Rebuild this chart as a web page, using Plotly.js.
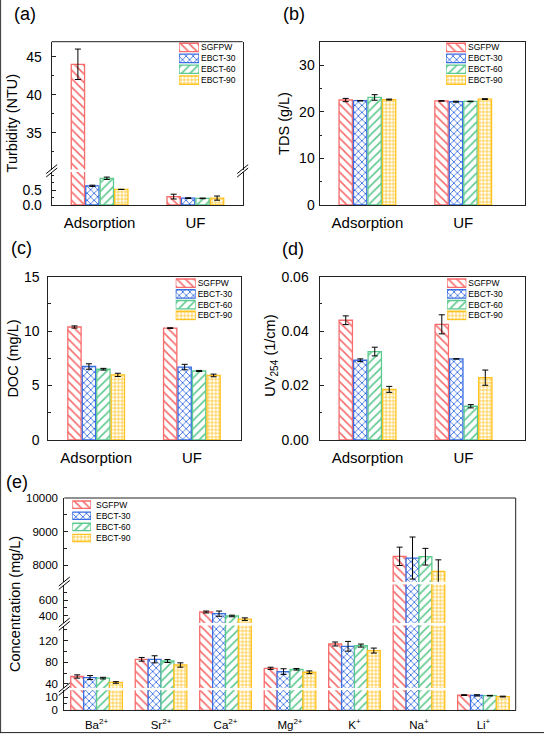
<!DOCTYPE html>
<html><head><meta charset="utf-8">
<script src="https://cdn.plot.ly/plotly-3.0.1.min.js"></script>
<style>html,body{margin:0;padding:0;background:#fff}</style>
</head><body><div id="chart" style="width:544px;height:735px"></div>
<script>
// ---------------- data ----------------
const seriesNames = ['SGFPW', 'EBCT-30', 'EBCT-60', 'EBCT-90'];
const processes = ['Adsorption', 'UF'];
// per series: [Adsorption, UF]
const turbidity    = [[44.0, 0.28], [0.64, 0.23], [0.89, 0.22], [0.52, 0.23]];
const turbidityErr = [[2.0, 0.08], [0.02, 0.01], [0.04, 0.01], [0.0, 0.07]];
const tds          = [[22.5, 22.3], [22.35, 22.15], [23.05, 22.2], [22.6, 22.7]];
const tdsErr       = [[0.35, 0.05], [0.05, 0.1], [0.6, 0.05], [0.1, 0.08]];
const doc          = [[10.38, 10.28], [6.75, 6.7], [6.5, 6.34], [5.98, 5.93]];
const docErr       = [[0.1, 0.03], [0.25, 0.25], [0.08, 0.05], [0.15, 0.12]];
const uv254        = [[0.0440, 0.0425], [0.0293, 0.0298], [0.0325, 0.0124], [0.0186, 0.0229]];
const uv254Err     = [[0.0016, 0.0035], [0.0005, 0.0], [0.0016, 0.0006], [0.0011, 0.0028]];
const ions = ['Ba<sup>2+</sup>', 'Sr<sup>2+</sup>', 'Ca<sup>2+</sup>', 'Mg<sup>2+</sup>', 'K<sup>+</sup>', 'Na<sup>+</sup>', 'Li<sup>+</sup>'];
const ionConc = [
  [53.8, 85.5, 450, 68.9, 113.7, 8260, 11.6],
  [51.8, 85.5, 429, 62.9, 109.5, 8209, 11.4],
  [50.8, 82.4, 400, 67.1, 110.8, 8249, 11.2],
  [42.8, 75.0, 360, 61.6, 101.6, 7812, 10.5]];
const ionErr = [
  [3.0, 3.4, 12, 2.0, 3.7, 274, 0.3],
  [3.7, 6.5, 33, 5.2, 9.0, 627, 0.5],
  [1.5, 2.8, 10, 1.5, 2.8, 249, 0.2],
  [1.5, 4.0, 16, 2.5, 4.6, 343, 0.3]];
const legendSpan = [0, 1];

// ---------------- style / layout helpers ----------------
const W = 544, H = 735;
const X = px => px / W;
const Y = py => 1 - py / H;
const FONT = 'Liberation Sans, Arial, Helvetica, sans-serif';
const colors = ['#F76B6B', '#3A6EE3', '#5CC98E', '#FFC21F'];
const patterns = [
  {shape: '\\', size: 6, solidity: 0.26},
  {shape: 'x', size: 5, solidity: 0.32},
  {shape: '/', size: 6, solidity: 0.26},
  {shape: '+', size: 3.6, solidity: 0.36}];
const AX = '#222';

const traces = [], shapes = [], annotations = [];
const layout = {
  width: W, height: H, margin: {l: 0, r: 0, t: 0, b: 0},
  paper_bgcolor: '#fff', plot_bgcolor: 'rgba(0,0,0,0)',
  showlegend: false, barmode: 'overlay', font: {family: FONT, color: '#000'}
};
let xCount = 0, yCount = 0;
const axId = (l, n) => n === 1 ? l : l + n;
const axKey = (l, n) => n === 1 ? l + 'axis' : l + 'axis' + n;

function markerFor(i) {
  return {color: '#fff', line: {color: colors[i], width: 1.3},
    pattern: Object.assign({fgcolor: colors[i], bgcolor: '#fff', fillmode: 'replace'}, patterns[i])};
}

function barPanel(cfg) {
  const xn = ++xCount, xid = axId('x', xn);
  const yns = cfg.segs.map(() => ++yCount);
  const yids = yns.map(n => axId('y', n));
  layout[axKey('x', xn)] = {
    domain: [X(cfg.xPx[0]), X(cfg.xPx[1])], anchor: yids[0], type: 'category',
    range: cfg.xRange, showline: true, linecolor: AX, linewidth: 1, mirror: cfg.xMirror,
    ticks: '', showgrid: false, zeroline: false, fixedrange: true,
    tickfont: {family: FONT, size: cfg.xFont, color: '#000'}, ticklabelstandoff: cfg.xStandoff
  };
  cfg.segs.forEach((s, k) => {
    layout[axKey('y', yns[k])] = {
      domain: [Y(s.py[1]), Y(s.py[0])], anchor: xid, range: s.range,
      tickmode: 'array', tickvals: s.tickvals, tickformat: s.fmt || '',
      ticks: 'inside', ticklen: 4, tickwidth: 1, tickcolor: AX,
      minor: {dtick: s.minor, tick0: 0, ticks: 'inside', ticklen: 2.5, tickwidth: 1, tickcolor: AX},
      showline: true, linecolor: AX, linewidth: 1, mirror: cfg.yMirror,
      showgrid: false, zeroline: false, fixedrange: true,
      tickfont: {family: FONT, size: cfg.yFont, color: '#000'}, ticklabelstandoff: cfg.yStandoff
    };
    cfg.values.forEach((vals, i) => {
      traces.push({
        type: 'bar', x: cfg.cats, y: vals, xaxis: xid, yaxis: yids[k],
        width: cfg.width, offset: -2 * cfg.step + i * cfg.step + (cfg.step - cfg.width) / 2,
        marker: markerFor(i),
        error_y: {type: 'data', array: cfg.errs[i], visible: true, color: '#000', thickness: 1, width: 3},
        hoverinfo: 'skip', showlegend: false, name: seriesNames[i]
      });
    });
  });
}

function legendBox(xl, xr, rowTop, rowBot, frac, fontSize, standoff) {
  const xn = ++xCount, yn = ++yCount;
  const xid = axId('x', xn), yid = axId('y', yn);
  layout[axKey('x', xn)] = {domain: [X(xl), X(xr)], anchor: yid, range: legendSpan, visible: false, fixedrange: true};
  layout[axKey('y', yn)] = {
    domain: [Y(rowBot), Y(rowTop)], anchor: xid, type: 'category',
    range: [seriesNames.length - 0.5, -0.5], side: 'right', showline: false, ticks: '',
    showgrid: false, zeroline: false, fixedrange: true,
    tickfont: {family: FONT, size: fontSize, color: '#000'}, ticklabelstandoff: standoff
  };
  seriesNames.forEach((nm, i) => traces.push({
    type: 'bar', orientation: 'h', y: [nm], x: [legendSpan[1]], width: frac,
    xaxis: xid, yaxis: yid, marker: markerFor(i), hoverinfo: 'skip', showlegend: false
  }));
}

function breakMark(px, py) {
  [-1.7, 1.7].forEach(o => shapes.push({
    type: 'line', xref: 'paper', yref: 'paper',
    x0: X(px - 5.5), y0: Y(py + 4.5 + o), x1: X(px + 5.5), y1: Y(py - 4.5 + o),
    line: {color: '#000', width: 1}
  }));
}
function hline(x0, x1, py) {
  shapes.push({type: 'line', xref: 'paper', yref: 'paper', x0: X(x0), x1: X(x1), y0: Y(py), y1: Y(py), line: {color: AX, width: 1}});
}
function vline(px, y0, y1, col) {
  shapes.push({type: 'line', xref: 'paper', yref: 'paper', x0: X(px), x1: X(px), y0: Y(y0), y1: Y(y1), line: {color: col || AX, width: 1}});
}
function label(txt, px, py, size, angle) {
  annotations.push({text: txt, xref: 'paper', yref: 'paper', x: X(px), y: Y(py), xanchor: 'center', yanchor: 'middle',
    showarrow: false, textangle: angle || 0, font: {family: FONT, size: size, color: '#000'}});
}

// ---------------- panels ----------------
const small = {step: 0.151, width: 0.139, xFont: 15, yFont: 14, xStandoff: 4};
// (a)
barPanel(Object.assign({}, small, {
  cats: processes, values: turbidity, errs: turbidityErr, xPx: [51.7, 242.7], xRange: [-0.5, 1.494],
  xMirror: false, yMirror: true, yStandoff: 6,
  segs: [
    {py: [172, 205], range: [0, 1.1], tickvals: [0, 0.5], minor: 0.25, fmt: '.1f'},
    {py: [41.7, 169.5], range: [30.16, 46.97], tickvals: [35, 40, 45], minor: 2.5}]
}));
hline(51.7, 242.7, 41.7);
breakMark(51.7, 170.8); breakMark(242.7, 170.8);
// (b)
barPanel(Object.assign({}, small, {
  cats: processes, values: tds, errs: tdsErr, xPx: [319.5, 524.7], xRange: [-0.5, 1.642],
  xMirror: true, yMirror: true, yStandoff: 1,
  segs: [{py: [41.7, 205], range: [0, 35], tickvals: [0, 10, 20, 30], minor: 5}]
}));
// (c)
barPanel(Object.assign({}, small, {
  cats: processes, values: doc, errs: docErr, xPx: [48.3, 240.7], xRange: [-0.5, 1.51],
  xMirror: true, yMirror: true, yStandoff: 5,
  segs: [{py: [276.7, 440], range: [0, 15], tickvals: [0, 5, 10, 15], minor: 2.5}]
}));
// (d)
barPanel(Object.assign({}, small, {
  cats: processes, values: uv254, errs: uv254Err, xPx: [319.5, 525], xRange: [-0.5, 1.64],
  xMirror: true, yMirror: true, yStandoff: 7,
  segs: [{py: [276.7, 440], range: [0, 0.06], tickvals: [0, 0.02, 0.04, 0.06], minor: 0.01, fmt: '.2f'}]
}));
// (e)
barPanel({
  cats: ions, values: ionConc, errs: ionErr, xPx: [64.3, 515.7], xRange: [-0.5, 6.5],
  step: 0.2, width: 0.2, xFont: 11.5, yFont: 11.5, xStandoff: 4, yStandoff: 3,
  xMirror: false, yMirror: false,
  segs: [
    {py: [690.3, 710.3], range: [0, 15.27], tickvals: [0, 10], minor: 5},
    {py: [625.5, 688], range: [32.6, 147.8], tickvals: [40, 80, 120], minor: 20},
    {py: [584.5, 623], range: [312, 794], tickvals: [400, 600], minor: 100},
    {py: [498, 581.8], range: [7500, 10000], tickvals: [8000, 9000, 10000], minor: 500, fmt: 'd'}]
});
hline(64.3, 515.7, 498); vline(515.7, 498, 710.3);
breakMark(64.3, 583.2); breakMark(64.3, 624.2); breakMark(64.3, 689.2);

// legends
legendBox(179, 199, 42.0, 85.6, 0.77, 8.5, 1);
legendBox(446, 466, 42.0, 85.6, 0.77, 8.5, 1);
legendBox(175.7, 195.7, 277.8, 320.8, 0.78, 8.5, 1);
legendBox(447, 466.3, 277.8, 320.8, 0.78, 8.5, 1);
legendBox(72.3, 91, 499.1, 543.6, 0.66, 8.5, 4);

// titles and panel labels
label('Turbidity (NTU)', 12, 123.4, 14.5, -90);
label('TDS (g/L)', 284.5, 123.4, 14.5, -90);
label('DOC (mg/L)', 13.3, 358.3, 14.5, -90);
label('UV<sub>254</sub> (1/cm)', 270.7, 356, 14.5, -90);
label('Concentration (mg/L)', 15, 604, 14.5, -90);
label('(a)', 25, 14, 18);
label('(b)', 293.7, 14, 18);
label('(c)', 21, 248, 18);
label('(d)', 293.3, 249, 18);
label('(e)', 16.7, 482.5, 18);

// outer picture border (left / bottom)
vline(0.6, 0, 733, '#333');
hline(0, 544, 732.6);

layout.shapes = shapes;
layout.annotations = annotations;
Plotly.newPlot('chart', traces, layout, {staticPlot: true, displayModeBar: false});
</script></body></html>
